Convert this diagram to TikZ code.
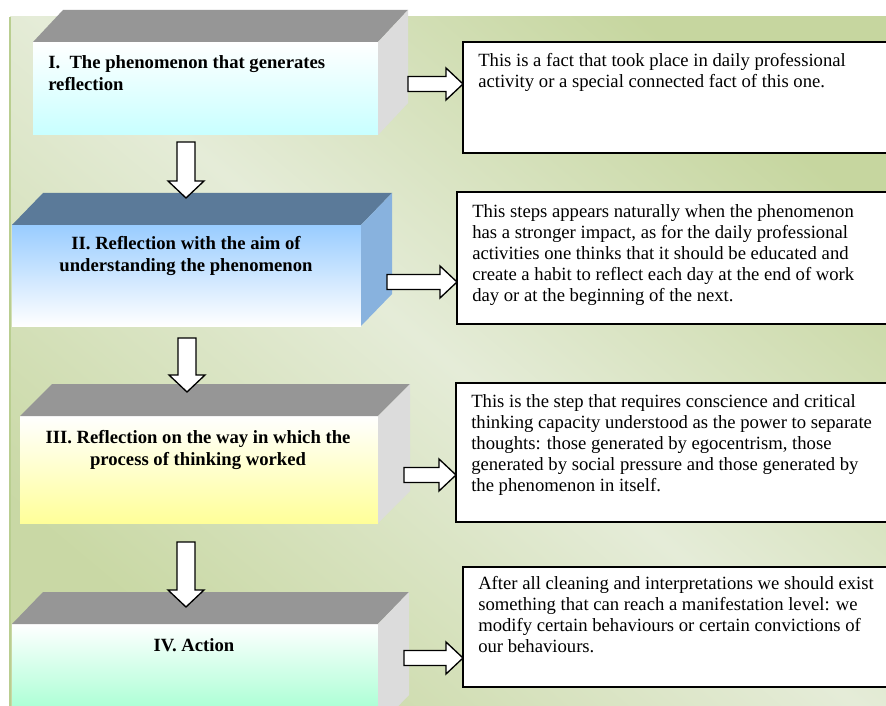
\documentclass[tikz,border=0pt]{standalone}
\usepackage{fontspec}
\setmainfont{Liberation Serif}
\usetikzlibrary{calc,fit}
\definecolor{gdark}{HTML}{C6D69F}
\definecolor{glight}{HTML}{E5ECD8}
\definecolor{gborder}{HTML}{B9CE90}
\definecolor{topgray}{HTML}{969696}
\definecolor{sidegray}{HTML}{DCDCDC}
\definecolor{topblue}{HTML}{5B7A99}
\definecolor{sideblue}{HTML}{88B2DE}
\definecolor{frontblue}{HTML}{99CCFF}
\definecolor{frontcyan}{HTML}{C8FFFF}
\definecolor{frontyellow}{HTML}{FFFF99}
\definecolor{frontmint}{HTML}{99FFCC}
\tikzset{
  face/.style={inner sep=0pt, outer sep=0pt, draw=none},
  lbl/.style={font=\fontsize{14}{16.5}\selectfont\bfseries, inner sep=0pt},
  tbox/.style={draw=black, line width=1.2pt, fill=white, inner sep=0pt, outer sep=0pt},
  ttext/.style={font=\fontsize{14}{15.8}\selectfont, align=left, inner sep=0pt, anchor=north west},
  barrow/.style={draw=black, fill=white, line width=1pt, line join=miter},
}
\newcommand\cubetop[3]{% node, colour, depth vector
  \fill[#2] (#1.north west) -- ++(#3) -- ($(#1.north east)+(#3)$) -- (#1.north east) -- cycle;}
\newcommand\cubeside[3]{%
  \fill[#2] (#1.north east) -- ++(#3) -- ($(#1.south east)+(#3)$) -- (#1.south east) -- cycle;}
\newcommand\blockright[2]{%
  \draw[barrow] ($(#1)+(0,-7.5)$) -- ($(#2)+(-17,-7.5)$) -- ($(#2)+(-17,-16)$) -- (#2)
     -- ($(#2)+(-17,16)$) -- ($(#2)+(-17,7.5)$) -- ($(#1)+(0,7.5)$) -- cycle;}
\newcommand\blockdown[2]{%
  \draw[barrow] ($(#1)+(-9,0)$) -- ($(#2)+(-9,-17)$) -- ($(#2)+(-18,-17)$) -- (#2)
     -- ($(#2)+(18,-17)$) -- ($(#2)+(9,-17)$) -- ($(#1)+(9,0)$) -- cycle;}
\begin{document}
\begin{tikzpicture}[x=0.75pt,y=-0.75pt]
\clip (0,0) rectangle (886,706);
\fill[white] (0,0) rectangle (886,706);
% background panel
\shade[top color=gdark, bottom color=gdark!90!glight, middle color=glight, shading angle=-40]
  (10,17) rectangle (890,710);
\draw[gborder, line width=1.5pt] (10,17) -- (10,710);

% ---- box I
\node[face, fit={(33,42)(378,135)}, top color=white, bottom color=frontcyan] (f1) {};
\cubetop{f1}{topgray}{30,-32}
\cubeside{f1}{sidegray}{30,-32}
\node[lbl, anchor=west, align=left] (l1) at (48,73) {I.\ \ The phenomenon that generates\\reflection};

% ---- box II
\node[face, fit={(12,225)(361,326)}, top color=frontblue, bottom color=white] (f2) {};
\cubetop{f2}{topblue}{31,-32}
\cubeside{f2}{sideblue}{31,-32}
\node[lbl, align=center] (l2) at (186,256) {II. Reflection with the aim of\\understanding the phenomenon};

% ---- box III
\node[face, fit={(20,416)(378,523)}, top color=white, bottom color=frontyellow] (f3) {};
\cubetop{f3}{topgray}{32,-32}
\cubeside{f3}{sidegray}{32,-32}
\node[lbl, align=center] (l3) at (198,450) {III. Reflection on the way in which the\\process of thinking worked};

% ---- box IV
\node[face, fit={(12,624)(378,727)}, top color=white, bottom color=frontmint] (f4) {};
\cubetop{f4}{topgray}{31,-32}
\cubeside{f4}{sidegray}{31,-32}
\node[lbl] (l4) at (194,645) {IV. Action};

% ---- text boxes
\node[tbox, fit={(463,42)(892,153)}] (t1) {};
\node[ttext] (x1) at ($(t1.north west)+(15,11)$) {This is a fact that took place in daily professional\\activity or a special connected fact of this one.};
\node[tbox, fit={(457,192)(892,324)}] (t2) {};
\node[ttext] (x2) at ($(t2.north west)+(15,12)$) {This steps appears naturally when the phenomenon\\has a stronger impact, as for the daily professional\\activities one thinks that it should be educated and\\create a habit to reflect each day at the end of work\\day or at the beginning of the next.};
\node[tbox, fit={(456,383)(892,522)}] (t3) {};
\node[ttext] (x3) at ($(t3.north west)+(15,11)$) {This is the step that requires conscience and critical\\thinking capacity understood as the power to separate\\thoughts: those generated by egocentrism, those\\generated by social pressure and those generated by\\the phenomenon in itself.};
\node[tbox, fit={(463,567)(892,687)}] (t4) {};
\node[ttext] (x4) at ($(t4.north west)+(15,9)$) {After all cleaning and interpretations we should exist\\something that can reach a manifestation level: we\\modify certain behaviours or certain convictions of\\our behaviours.};

% ---- right arrows
\coordinate (r1s) at (408,84);  \coordinate (r1e) at (r1s -| t1.west);
\coordinate (r2s) at (387,282); \coordinate (r2e) at (r2s -| t2.west);
\coordinate (r3s) at (404,475); \coordinate (r3e) at (r3s -| t3.west);
\coordinate (r4s) at (404,658); \coordinate (r4e) at (r4s -| t4.west);
\blockright{r1s}{r1e}
\blockright{r2s}{r2e}
\blockright{r3s}{r3e}
\blockright{r4s}{r4e}

% ---- down arrows
\coordinate (d1s) at (186,142); \coordinate (d1e) at (186,198);
\coordinate (d2s) at (187,338); \coordinate (d2e) at (187,392);
\coordinate (d3s) at (186,542); \coordinate (d3e) at (186,607);
\blockdown{d1s}{d1e}
\blockdown{d2s}{d2e}
\blockdown{d3s}{d3e}
\end{tikzpicture}
\end{document}
